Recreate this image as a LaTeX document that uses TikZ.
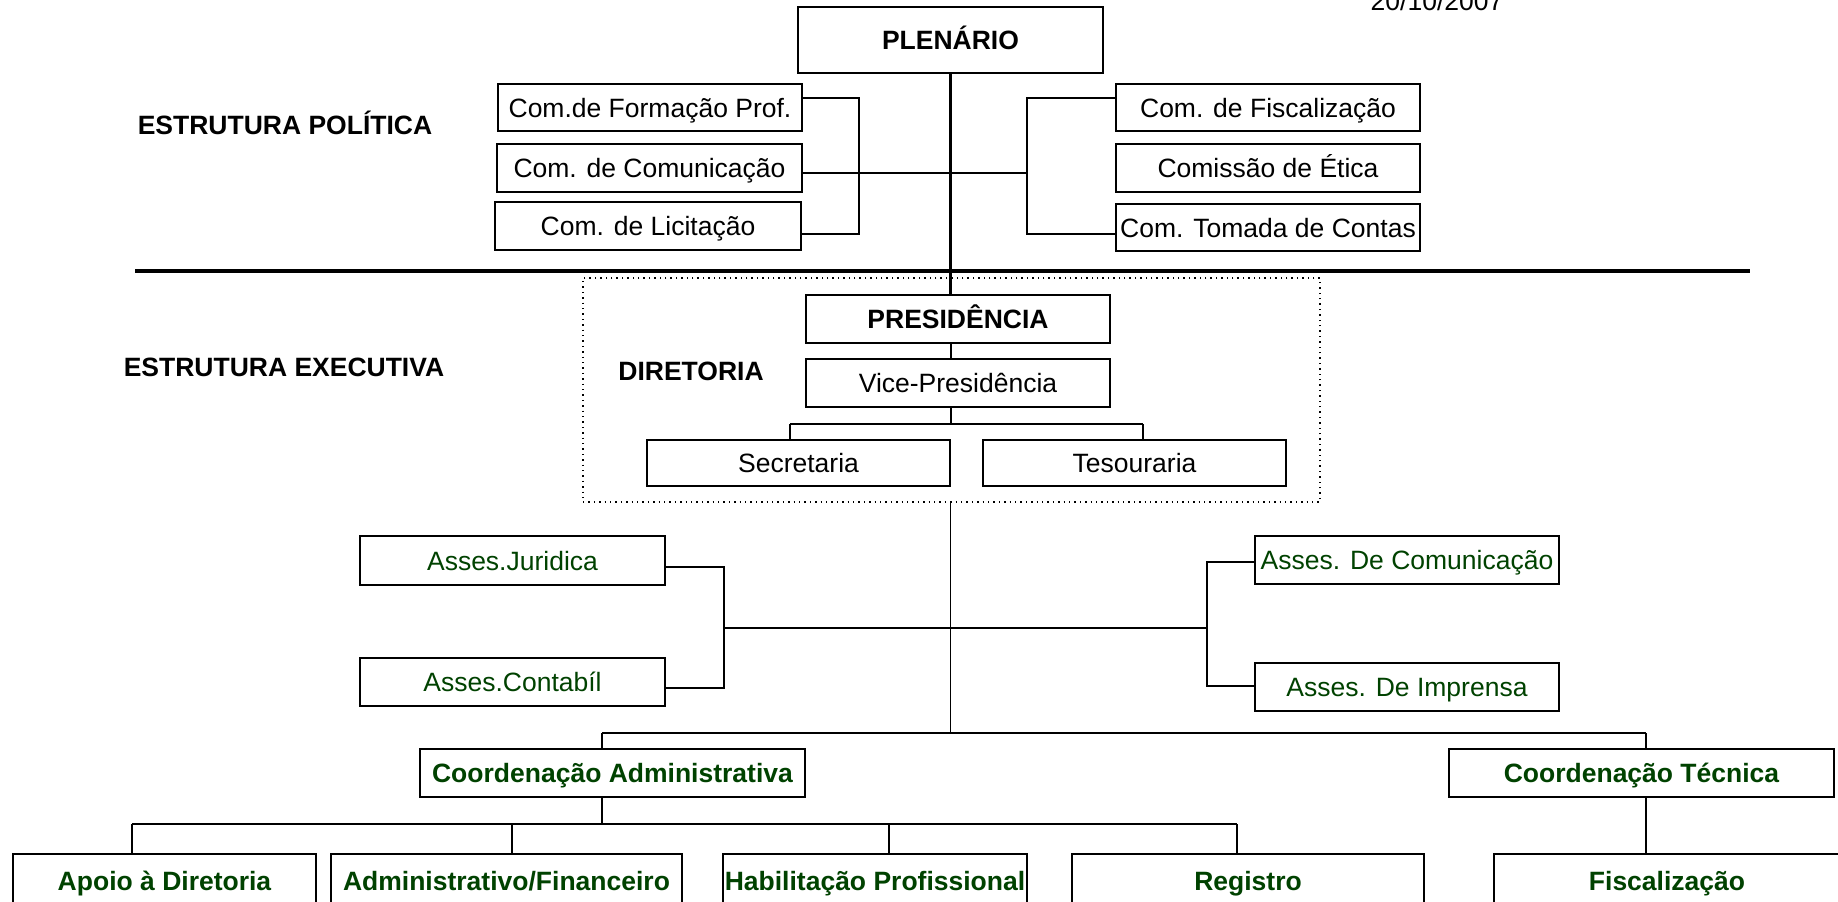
\documentclass[tikz,border=0pt]{standalone}
\usepackage{fontspec}
\setmainfont{Liberation Sans}
\newcommand{\fs}{\fontsize{13.25pt}{16pt}\selectfont}
\definecolor{dkgreen}{RGB}{0,66,0}
\begin{document}
\begin{tikzpicture}[x=0.5pt,y=-0.5pt,
  box/.style={draw, line width=1pt, inner sep=0pt, font=\fs, text height=9.5pt, text depth=0pt},
  gbox/.style={box, text=dkgreen},
  bbox/.style={box, font=\fs\bfseries},
  gbbox/.style={box, font=\fs\bfseries, text=dkgreen},
  lab/.style={font=\fs\bfseries, inner sep=0pt, text height=9.5pt, text depth=0pt},
  conn/.style={line width=1pt},
  thin conn/.style={line width=0.75pt},
  bold conn/.style={line width=1.3pt}]
\useasboundingbox (0,0) rectangle (1838,901);
\clip (0,0) rectangle (1838,901);
\fill[white] (0,0) rectangle (1838,901);

% date
\node[font=\fs, anchor=base, inner sep=0pt] (date) at (1437,10) {20/10/2007};

% labels
\node[lab] (ep) at (285,125) {ESTRUTURA POLÍTICA};
\node[lab] (ee) at (284,367) {ESTRUTURA EXECUTIVA};

% political structure
\node[bbox, minimum width=152.5pt, minimum height=33pt] (plen) at (950.5,40) {PLENÁRIO};
\node[box, minimum width=152pt, minimum height=23.5pt] (cfp) at (650,107.5) {Com.de Formação Prof.};
\node[box, minimum width=152.5pt, minimum height=24pt] (ccom) at (649.5,168) {Com. de Comunicação};
\node[box, minimum width=153pt, minimum height=24pt] (clic) at (648,226) {Com. de Licitação};
\node[box, minimum width=152pt, minimum height=23.5pt] (cfis) at (1268,107.5) {Com. de Fiscalização};
\node[box, minimum width=152pt, minimum height=24pt] (cet) at (1268,168) {Comissão de Ética};
\node[box, minimum width=152pt, minimum height=23.5pt] (ctc) at (1268,227.5) {Com. Tomada de Contas};

% separator
\coordinate (sepL) at (135,271);
\coordinate (sepR) at (1750,271);
\draw[line width=1.7pt] (sepL) -- (sepR);

% diretoria frame
\node[draw, dotted, line width=0.7pt, minimum width=368.5pt, minimum height=112pt, inner sep=0pt] (frame) at (951.5,390) {};
\node[lab] (dl) at (691,371) {DIRETORIA};
\node[bbox, minimum width=152pt, minimum height=24pt] (pres) at (958,319) {PRESIDÊNCIA};
\node[box, minimum width=152pt, minimum height=24pt] (vice) at (958,383) {Vice-Presidência};
\node[box, minimum width=151.5pt, minimum height=23pt] (sec) at (798.5,463) {Secretaria};
\node[box, minimum width=151.5pt, minimum height=23pt] (tes) at (1134.5,463) {Tesouraria};

% trunk plenario -> presidencia
\draw[bold conn] (plen.south) -- (plen.south |- pres.north);
% left bracket
\coordinate (lbt) at (859,98);
\coordinate (lbb) at (859,234);
\draw[conn] (cfp.east |- lbt) -- (lbt) -- (lbb) -- (clic.east |- lbb);
% right bracket
\coordinate (rbt) at (1027,98);
\coordinate (rbb) at (1027,234);
\coordinate (rbm) at (1027,173);
\draw[conn] (cfis.west |- rbt) -- (rbt) -- (rbb) -- (ctc.west |- rbb);
\draw[conn] (ccom.east |- rbm) -- (rbm);

% presidencia -> vice -> bar
\draw[conn] (pres.south -| plen.south) -- (vice.north -| plen.south);
\coordinate (vbar) at (950.5,424);
\coordinate (barL) at (790,424);
\coordinate (barR) at (1143,424);
\draw[conn] (vice.south -| vbar) -- (vbar);
\draw[bold conn] (barL) -- (barR);
\draw[conn] (barL) -- (barL |- sec.north);
\draw[conn] (barR) -- (barR |- tes.north);

% assessorias
\node[gbox, minimum width=152.5pt, minimum height=24.5pt] (aj) at (512.5,560.5) {Asses.Juridica};
\node[gbox, minimum width=152.5pt, minimum height=24pt] (ac) at (512.5,682) {Asses.Contabíl};
\node[gbox, minimum width=152pt, minimum height=24pt] (adc) at (1407,560) {Asses. De Comunicação};
\node[gbox, minimum width=152pt, minimum height=24pt] (adi) at (1407,687) {Asses. De Imprensa};

\coordinate (bar2) at (950.5,733);
\draw[thin conn] (frame.south -| bar2) -- (bar2);

\coordinate (alt) at (724,567);
\coordinate (alm) at (724,628);
\coordinate (alb) at (724,688);
\coordinate (art) at (1207,562);
\coordinate (arm) at (1207,628);
\coordinate (arb) at (1207,686);
\draw[conn] (alm) -- (arm);
\draw[bold conn] (aj.east |- alt) -- (alt) -- (alb) -- (ac.east |- alb);
\draw[bold conn] (adc.west |- art) -- (art) -- (arb) -- (adi.west |- arb);

% coordenacoes
\node[gbbox, minimum width=192.5pt, minimum height=24pt] (cadm) at (612.5,773) {Coordenação Administrativa};
\node[gbbox, minimum width=192.5pt, minimum height=24pt] (ctec) at (1641.5,773) {Coordenação Técnica};
\coordinate (b2L) at (602,733);
\coordinate (b2R) at (1646,733);
\draw[conn] (b2L) -- (b2R);
\draw[thin conn] (b2L) -- (b2L |- cadm.north);
\draw[thin conn] (b2R) -- (b2R |- ctec.north);

% bottom row
\node[gbbox, minimum width=151.5pt, minimum height=27pt] (apoio) at (164.5,881) {Apoio à Diretoria};
\node[gbbox, minimum width=175.5pt, minimum height=27pt] (adf) at (506.5,881) {Administrativo/Financeiro};
\node[gbbox, minimum width=152pt, minimum height=27pt] (hab) at (875,881) {Habilitação Profissional};
\node[gbbox, minimum width=176pt, minimum height=27pt] (reg) at (1248,881) {Registro};
\node[gbbox, minimum width=173pt, minimum height=27pt] (fisc) at (1667,881) {Fiscalização};

\coordinate (b3C) at (602,824);
\coordinate (b3a) at (132,824);
\coordinate (b3b) at (512,824);
\coordinate (b3c) at (889,824);
\coordinate (b3d) at (1237,824);
\draw[thin conn] (cadm.south -| b3C) -- (b3C);
\draw[bold conn] (b3a) -- (b3d);
\draw[thin conn] (b3a) -- (b3a |- apoio.north);
\draw[conn] (b3b) -- (b3b |- adf.north);
\draw[thin conn] (b3c) -- (b3c |- hab.north);
\draw[thin conn] (b3d) -- (b3d |- reg.north);
\draw[thin conn] (ctec.south -| b2R) -- (b2R |- fisc.north);
\end{tikzpicture}
\end{document}
